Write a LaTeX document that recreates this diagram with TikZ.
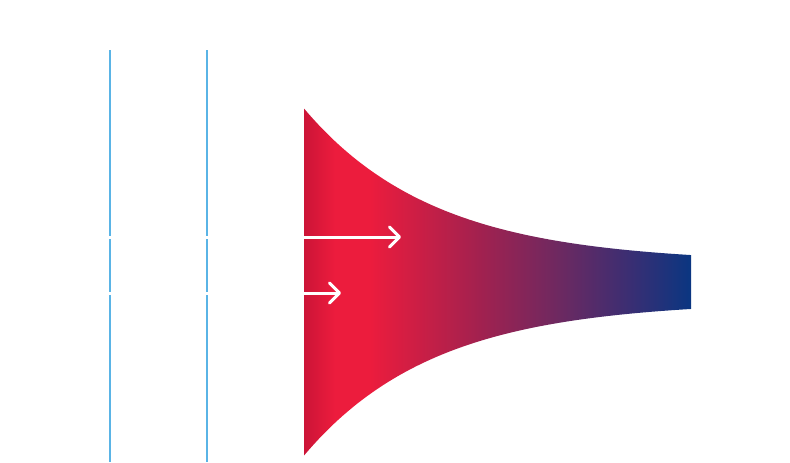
\documentclass[tikz,border=0pt]{standalone}
\usepackage{xcolor}
\usetikzlibrary{arrows.meta}

\definecolor{wallblue}{HTML}{5AB4E6}
\definecolor{plumea}{HTML}{CC1437}
\definecolor{plumeb}{HTML}{EC1C3D}
\definecolor{plumec}{HTML}{A2214F}
\definecolor{plumed}{HTML}{6C2961}
\definecolor{plumee}{HTML}{3A2E73}
\definecolor{plumef}{HTML}{0A3681}
\pgfdeclarehorizontalshading{plume}{100bp}{color(0bp)=(plumea); color(25bp)=(plumea);
  color(29bp)=(plumeb); color(33.5bp)=(plumeb); color(47.7bp)=(plumec);
  color(58.1bp)=(plumed); color(67.1bp)=(plumee); color(75bp)=(plumef); color(100bp)=(plumef)}

\tikzset{
  wall/.style={draw=wallblue, line width=.04cm},
  flow/.style={draw=white, line width=.09cm, line cap=round,
    -{Straight Barb[length=.3cm, width=.6cm, round]}},
}

\begin{document}
\begin{tikzpicture}[x=.03cm, y=-.03cm]
  \useasboundingbox (0,0) rectangle (790,462);
  % walls
  \draw[wall] (110,50) coordinate (lwt) -- (110,462) coordinate (lwb);
  \draw[wall] (207,50) coordinate (rwt) -- (207,462) coordinate (rwb);
  % plume
  \shade[shading=plume]
    plot[domain=304:691, samples=80] (\x, {282-19.1-154.4*exp(-(\x-304)/130)})
    -- plot[domain=691:304, samples=80] (\x, {282+19.1+154.4*exp(-(\x-304)/130)})
    -- cycle;
  % jets
  \path (60,237) coordinate (jai) (401,237) coordinate (jao);
  \draw[flow] (jai) -- (jao);
  \path (60,293) coordinate (jbi) (341,293) coordinate (jbo);
  \draw[flow] (jbi) -- (jbo);
\end{tikzpicture}
\end{document}
